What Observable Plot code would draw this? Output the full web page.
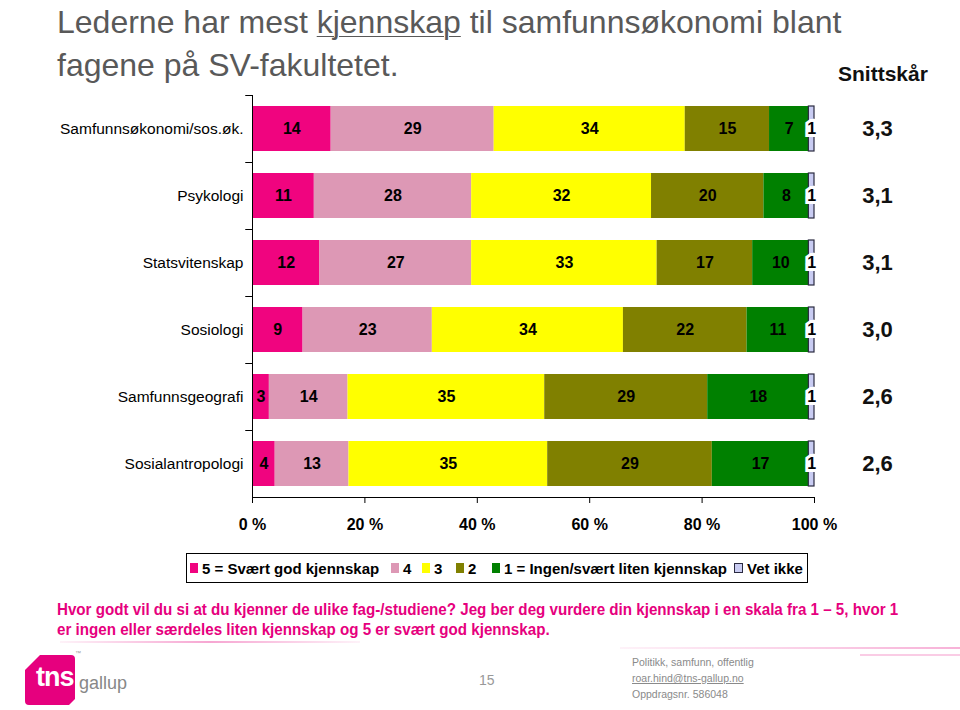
<!DOCTYPE html>
<html><head><meta charset="utf-8">
<script src="https://cdn.jsdelivr.net/npm/d3@7"></script>
<script src="https://cdn.jsdelivr.net/npm/@observablehq/plot@0.6"></script>
<style>
body{margin:0;background:#fff;}
#page{position:relative;width:960px;height:710px;overflow:hidden;font-family:"Liberation Sans",Arial,sans-serif;}
#chart{position:absolute;left:0;top:0;}
.abs{position:absolute;white-space:nowrap;}
#title{left:57px;top:1px;font-size:32px;line-height:43px;color:#595959;}
#title u{text-decoration-thickness:1px;text-underline-offset:3px;}
#snitt{left:838px;top:62px;font-weight:bold;font-size:21px;color:#111;}
#legend{left:186px;top:553px;width:620px;height:28px;border:1px solid #000;font-weight:bold;font-size:15px;color:#000;}
#legend .it{position:absolute;top:0;height:28px;display:flex;align-items:center;}
#legend .sw{width:8px;height:10px;margin-right:4px;display:inline-block;}
#question{left:57px;top:600px;font-weight:bold;font-size:16px;line-height:20px;color:#E6007E;transform:scaleX(0.947);transform-origin:left top;}
.deco{position:absolute;height:2px;}
#foot{left:632px;top:654px;font-size:10.5px;line-height:16px;color:#8a8a8a;}
#pg{left:479px;top:672px;font-size:14px;color:#999;}
#logo{left:25px;top:655px;width:50px;height:50px;background:#E6007E;clip-path:polygon(30% 0,100% 0,100% 88%,88% 100%,0 100%,0 30%);border-radius:4px;}
#tns{left:36px;top:662px;font-weight:bold;font-size:27px;color:#fff;letter-spacing:-1px;}
#tm{left:75px;top:650px;font-size:6px;color:#999;}
#gallup{left:79px;top:673px;font-size:18px;color:#888;}
</style></head>
<body><div id="page"></div>
<script>
const categories = ["Samfunnsøkonomi/sos.øk.","Psykologi","Statsvitenskap","Sosiologi","Samfunnsgeografi","Sosialantropologi"];
const levels = ["5 = Svært god kjennskap","4","3","2","1 = Ingen/svært liten kjennskap","Vet ikke"];
const colors = ["#F0047F","#DD98B5","#FFFF00","#808000","#008000","#C9CCF2"];
const s5 = [14,11,12,9,3,4];
const s4 = [29,28,27,23,14,13];
const s3 = [34,32,33,34,35,35];
const s2 = [15,20,17,22,29,29];
const s1 = [7,8,10,11,18,17];
const vetIkke = [1,1,1,1,1,1];
const snitt = [3.3,3.1,3.1,3.0,2.6,2.6];
const xTicks = [0,0.2,0.4,0.6,0.8,1];

const series = [s5,s4,s3,s2,s1,vetIkke];
const rows = [];
categories.forEach((c,i)=>{ levels.forEach((l,j)=>rows.push({category:c, level:l, value:series[j][i]})); });

const page = document.getElementById("page");
const isVet = d => d.level === "Vet ikke";
const top0 = 95, bottom0 = 497;
const step = (bottom0-top0)/categories.length;
const font = "Liberation Sans, Arial, sans-serif";

const chart = Plot.plot({
  width:960, height:710,
  marginLeft:252, marginRight:146, marginTop:top0, marginBottom:710-bottom0,
  x:{domain:[0,1]},
  y:{domain:categories, paddingInner:0.335, paddingOuter:0.1675},
  color:{domain:levels, range:colors},
  style:{fontSize:"15px", color:"#000", background:"transparent", fontFamily:font},
  marks:[
    Plot.barX(rows, Plot.stackX({offset:"normalize", x:"value", y:"category", fill:"level", stroke:"#2a2a40", strokeWidth:d=>isVet(d)?1.2:0})),
    Plot.text(rows, Plot.stackX({offset:"normalize", x:"value", y:"category", text:d=>String(d.value), fill:"#000", stroke:"#fff", strokeWidth:d=>isVet(d)?6:0, fontSize:16, fontWeight:"bold", paintOrder:"stroke", strokeLinejoin:"miter"})),
    Plot.ruleX([0], {stroke:"#000", strokeWidth:1}),
    Plot.ruleY(categories, {y:d=>d, x1:-0.012, x2:0, dy:-step/2, stroke:"#000"}),
    Plot.ruleY(categories.slice(-1), {y:d=>d, x1:0, x2:1, dy:step/2, stroke:"#000"}),
    Plot.axisX({ticks:xTicks, tickSize:6, tickPadding:15, tickFormat:d=>Math.round(d*100)+" %", fontSize:16, fontWeight:"bold", label:null}),
    Plot.axisY({tickSize:0, tickPadding:9, fontSize:15.5, label:null}),
    Plot.text(categories, {y:d=>d, text:(d,i)=>snitt[i].toFixed(1).replace(".",","), frameAnchor:"right", textAnchor:"middle", dx:63, fontSize:22, fontWeight:"bold", fill:"#111"})
  ]
});
chart.id = "chart";
page.appendChild(chart);

function add(html, id, cls="abs"){ const d=document.createElement("div"); d.className=cls; if(id) d.id=id; d.innerHTML=html; page.appendChild(d); return d; }
add('Lederne har mest <u>kjennskap</u> til samfunnsøkonomi blant<br>fagene på SV-fakultetet.', "title");
add('Snittskår', "snitt");
const lg = add('', "legend");
const legendLeft = [3, 204, 235, 269, 305, 547];
levels.forEach((l,j)=>{
  const it=document.createElement("div"); it.className="it"; it.style.left=legendLeft[j]+"px";
  const sw=document.createElement("span"); sw.className="sw"; sw.style.background=colors[j];
  if(j===5){ sw.style.border="1px solid #2a2a40"; sw.style.width="7px"; sw.style.height="8px"; }
  const tx=document.createElement("span"); tx.textContent=l;
  it.appendChild(sw); it.appendChild(tx); lg.appendChild(it);
});
add('Hvor godt vil du si at du kjenner de ulike fag-/studiene? Jeg ber deg vurdere din kjennskap i en skala fra 1 – 5, hvor 1<br>er ingen eller særdeles liten kjennskap og 5 er svært god kjennskap.', "question");
const d1=add('',null,"deco"); d1.style.cssText+="left:60px;top:641px;width:300px;background:linear-gradient(90deg,rgba(230,0,126,0.05),rgba(230,0,126,0.35),rgba(230,0,126,0.05));";
const d2=add('',null,"deco"); d2.style.cssText+="left:620px;top:647px;width:340px;background:linear-gradient(90deg,rgba(230,0,126,0.05),rgba(230,0,126,0.3));";
const d3=add('',null,"deco"); d3.style.cssText+="left:860px;top:654px;width:100px;background:rgba(230,0,126,0.2);";
add('', "logo");
add('tns', "tns");
add('™', "tm");
add('gallup', "gallup");
add('15', "pg");
add('Politikk, samfunn, offentlig<br><u>roar.hind@tns-gallup.no</u><br>Oppdragsnr. 586048', "foot");
</script>
</body></html>
